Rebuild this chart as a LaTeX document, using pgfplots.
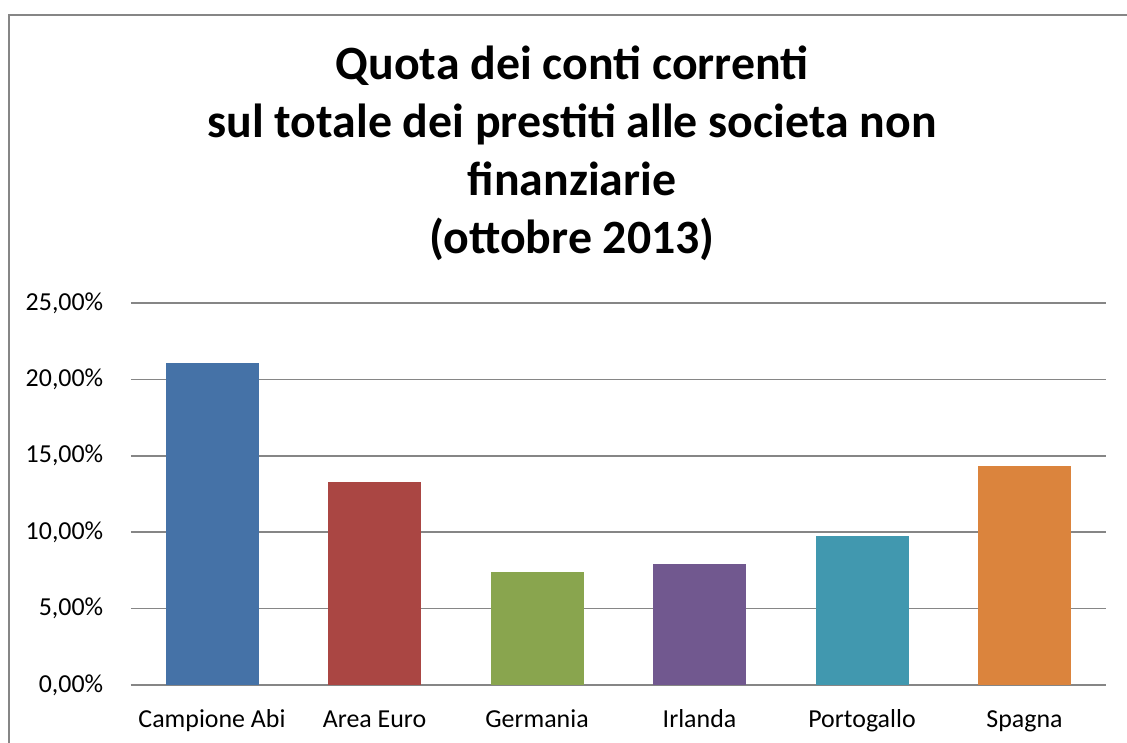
\documentclass[border=0pt]{standalone}
\usepackage{pgfplots}
\pgfplotsset{compat=1.18}
\usepackage{fontspec}
\setmainfont{Carlito}
\definecolor{c1}{HTML}{4572A7}
\definecolor{c2}{HTML}{AA4643}
\definecolor{c3}{HTML}{89A54E}
\definecolor{c4}{HTML}{71588F}
\definecolor{c5}{HTML}{4198AF}
\definecolor{c6}{HTML}{DB843D}
\definecolor{gridc}{HTML}{868686}
\begin{document}
\begin{tikzpicture}[x=1bp,y=1bp]
\useasboundingbox (0,0) rectangle (1127,743);
\draw[gridc, line width=2bp] (9,-5) -- (9,728) -- (1135,728);
\node[anchor=base, font=\fontsize{48}{55}\selectfont\bfseries] at (572,663) {Quota dei conti correnti};
\node[anchor=base, font=\fontsize{48}{55}\selectfont\bfseries] at (572,605) {sul totale dei prestiti alle societa non};
\node[anchor=base, font=\fontsize{48}{55}\selectfont\bfseries] at (572,547) {finanziarie};
\node[anchor=base, font=\fontsize{48}{55}\selectfont\bfseries] at (572,489) {(ottobre 2013)};
\begin{axis}[
  at={(130.75bp,58bp)}, anchor=south west,
  scale only axis, width=975bp, height=382bp,
  xmin=-0.5, xmax=5.5, ymin=0, ymax=25,
  ybar, bar width=93bp, bar shift=0pt,
  axis x line*=bottom, axis y line*=left,
  x axis line style={gridc, line width=2bp, -},
  y axis line style={draw=none},
  ytick={0,5,10,15,20,25},
  yticklabels={{0,00\%},{5,00\%},{10,00\%},{15,00\%},{20,00\%},{25,00\%}},
  ymajorgrids, grid style={gridc, line width=1.5bp},
  xtick={0,...,5},
  xticklabels={Campione Abi,Area Euro,Germania,Irlanda,Portogallo,Spagna},
  major tick length=0pt,
  tick label style={font=\fontsize{26}{31}\selectfont},
  yticklabel style={anchor=east, xshift=-24bp},
  xticklabel style={anchor=base, yshift=-43bp},
  clip=false,
]
\addplot[fill=c1, draw=none, bar shift=0pt] coordinates {(0,21.07)};
\addplot[fill=c2, draw=none, bar shift=0pt] coordinates {(1,13.29)};
\addplot[fill=c3, draw=none, bar shift=0pt] coordinates {(2,7.40)};
\addplot[fill=c4, draw=none, bar shift=0pt] coordinates {(3,7.92)};
\addplot[fill=c5, draw=none, bar shift=0pt] coordinates {(4,9.75)};
\addplot[fill=c6, draw=none, bar shift=0pt] coordinates {(5,14.33)};
\end{axis}
\end{tikzpicture}
\end{document}
